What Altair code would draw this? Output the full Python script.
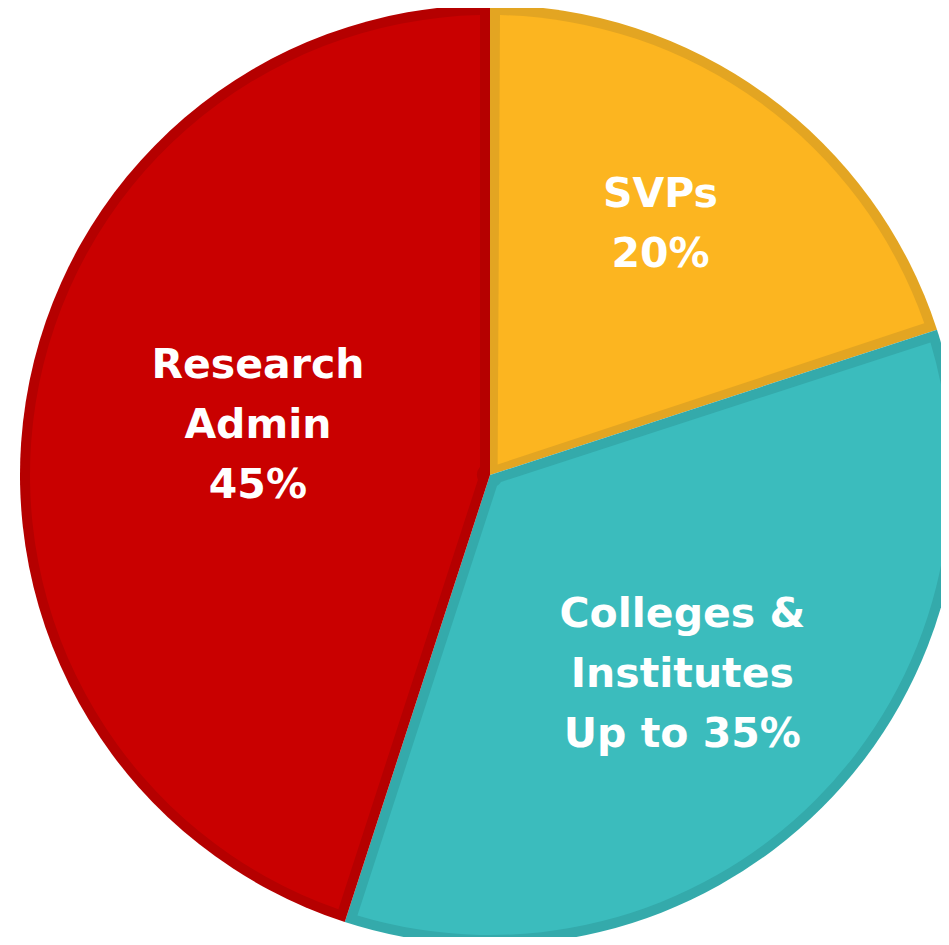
import altair as alt
import pandas as pd

categories = ["SVPs", "Colleges & Institutes", "Research Admin"]
shares = [20, 35, 45]
labels = ["SVPs\n20%", "Colleges &\nInstitutes\nUp to 35%", "Research\nAdmin\n45%"]
fill_colors = ["#FCB520", "#3BBCBD", "#C90000"]
edge_colors = ["#E3A522", "#34AAAB", "#B50000"]

df = pd.DataFrame({
    "category": categories,
    "share": shares,
    "label": labels,
    "order": list(range(len(categories))),
})

CX, CY, R = 482, 467, 470
BORDER = 10

base = alt.Chart(df).encode(
    theta=alt.Theta("share:Q", stack=True),
    order=alt.Order("order:Q"),
)

edge = base.mark_arc(radius=R).encode(
    x=alt.value(CX), y=alt.value(CY),
    color=alt.Color("category:N", scale=alt.Scale(domain=categories, range=edge_colors), legend=None),
)

inner_r = R - BORDER
fill = base.mark_arc(radius=inner_r, radius2=13, padAngle=2 * BORDER / inner_r).encode(
    x=alt.value(CX), y=alt.value(CY),
    fill=alt.Fill("category:N", scale=alt.Scale(domain=categories, range=fill_colors), legend=None),
)

label_style = {
    "SVPs": (290, -45),
    "Colleges & Institutes": (272, -52),
    "Research Admin": (235, -72),
}
text_layers = []
for cat in categories:
    rad, dy = label_style[cat]
    t = base.mark_text(
        font="DejaVu Sans", fontSize=41, fontWeight="bold", color="white",
        lineBreak="\n", lineHeight=60, align="center", baseline="middle", dy=dy,
    ).encode(
        x=alt.value(CX), y=alt.value(CY),
        text="label:N",
        radius=alt.value(rad),
        opacity=alt.condition(alt.datum.category == cat, alt.value(1), alt.value(0)),
    )
    text_layers.append(t)

chart = alt.layer(edge, fill, *text_layers).properties(
    width=933, height=929,
    autosize=alt.AutoSizeParams(type="none"),
    padding=0,
).configure_view(stroke=None)

chart.save("out.html", embed_options={"renderer": "svg", "actions": False})
